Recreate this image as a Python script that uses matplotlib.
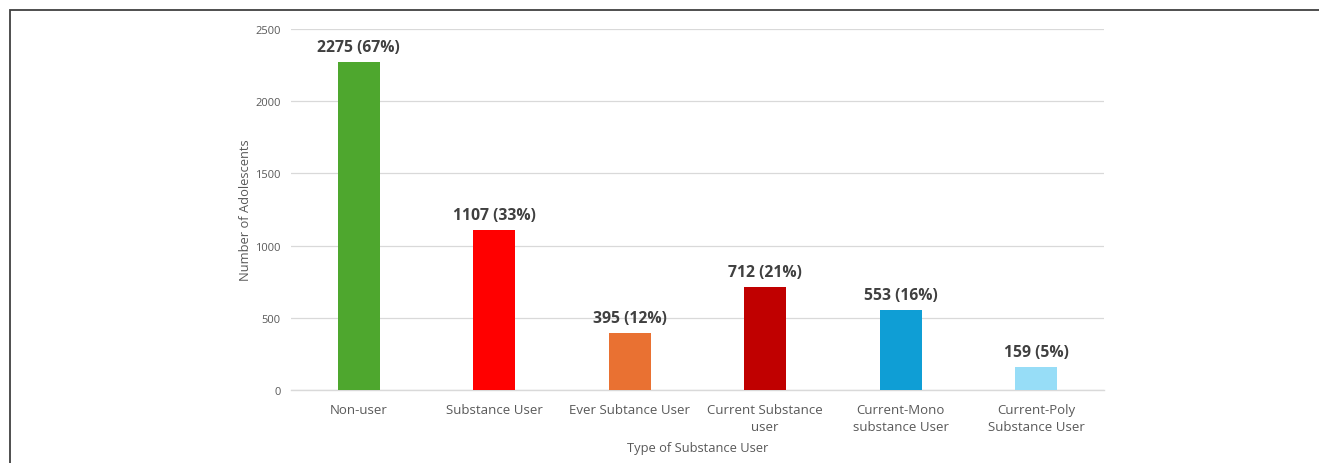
import matplotlib.pyplot as plt
from matplotlib.patches import Rectangle

# Data
categories = ['Non-user', 'Substance User', 'Ever Subtance User',
              'Current Substance\nuser', 'Current-Mono\nsubstance User',
              'Current-Poly\nSubstance User']
counts = [2275, 1107, 395, 712, 553, 159]
percents = [67, 33, 12, 21, 16, 5]
bar_colors = ['#4EA72E', '#FF0000', '#E97132', '#C00000', '#0F9ED5', '#97DDF7']
yticks = [0, 500, 1000, 1500, 2000, 2500]

plt.rcParams['font.family'] = ['Open Sans', 'DejaVu Sans']

fig = plt.figure(figsize=(13.19, 4.64), dpi=100)
ax = fig.add_axes([0.2206, 0.1573, 0.6164, 0.778])

x = list(range(len(categories)))
ax.bar(x, counts, width=0.31, color=bar_colors, zorder=3)

# Value labels above bars
for xi, c, p in zip(x, counts, percents):
    ax.annotate(f'{c} ({p}%)', (xi, c), xytext=(0, 5), textcoords='offset points',
                ha='center', va='bottom', fontsize=11.3, fontweight='bold', color='#404040')

ax.set_xlim(-0.5, len(categories) - 0.5)
ax.set_ylim(0, 2500)
ax.set_yticks(yticks)
ax.set_xticks(x)
ax.set_xticklabels(categories, fontsize=9.5, color='#595959', linespacing=1.45)
ax.tick_params(axis='y', labelsize=8, colors='#595959', length=0, pad=7.5)
ax.tick_params(axis='x', length=0, pad=9)

ax.grid(axis='y', color='#d9d9d9', linewidth=0.9, zorder=0)
for s in ['top', 'right', 'left']:
    ax.spines[s].set_visible(False)
ax.spines['bottom'].set_color('#d9d9d9')
ax.spines['bottom'].set_linewidth(1.0)

ax.set_ylabel('Number of Adolescents', fontsize=9.3, color='#595959', labelpad=2)
ax.set_xlabel('Type of Substance User', fontsize=9.3, color='#595959', labelpad=6)

# Outer frame running off the right and bottom edges
fig.patches.append(Rectangle((9.5 / 1319, -0.05), 1.2, (464 - 11) / 464 + 0.05,
                             transform=fig.transFigure, fill=False,
                             edgecolor='#404040', linewidth=1.3))

fig.savefig('out.png', dpi=100)
